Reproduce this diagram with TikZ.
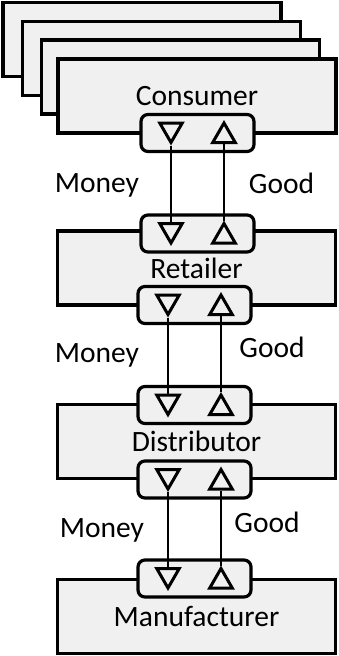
\documentclass[tikz,border=0pt]{standalone}
\usepackage{fontspec}
\setmainfont{Carlito}
\usetikzlibrary{shapes.geometric}
\definecolor{boxgray}{HTML}{F0F0F0}
\begin{document}
\begin{tikzpicture}[x=1pt,y=-1pt,
  stage/.style={draw, line width=3.2pt, fill=boxgray, minimum width=278pt, minimum height=74pt, inner sep=0pt, font=\fontsize{29.5}{31}\selectfont},
  port/.style={draw, line width=3.2pt, fill=boxgray, rounded corners=7pt, minimum width=113pt, minimum height=37pt, inner sep=0pt},
  tri/.style={draw, line width=3pt, fill=boxgray, regular polygon, regular polygon sides=3, minimum size=26pt, inner sep=0pt},
  tridown/.style={tri, shape border rotate=180},
  flow/.style={line width=2.4pt},
  lbl/.style={font=\fontsize{29.5}{31}\selectfont, anchor=base}]
\useasboundingbox[fill=white] (0,0) rectangle (338,656);
% stacked consumers
\node[stage] (c1) at (142,39.5) {};
\node[stage] (c2) at (161.5,58.5) {};
\node[stage] (c3) at (180.5,77) {};
\node[stage] (con) at (197,96) {Consumer};
\node[stage] (ret) at (196.5,268) {Retailer};
\node[stage] (dis) at (196.5,441.5) {Distributor};
\node[stage] (man) at (196.5,616.5) {Manufacturer};
% ports
\node[port] (p1u) at (197.5,133) {};
\node[port] (p1l) at (197.5,233.5) {};
\node[port] (p2u) at (194.5,305) {};
\node[port] (p2l) at (194.5,405) {};
\node[port] (p3u) at (194.5,479.5) {};
\node[port] (p3l) at (194.5,578.5) {};
% triangles
\node[tridown] (d1u) at (171,129.5) {};
\node[tri]     (u1u) at (224,136) {};
\node[tridown] (d1l) at (171,230) {};
\node[tri]     (u1l) at (224,236.5) {};
\node[tridown] (d2u) at (168,301.5) {};
\node[tri]     (u2u) at (221,308) {};
\node[tridown] (d2l) at (168,401.5) {};
\node[tri]     (u2l) at (221,408) {};
\node[tridown] (d3u) at (168,476) {};
\node[tri]     (u3u) at (221,482.5) {};
\node[tridown] (d3l) at (168,575) {};
\node[tri]     (u3l) at (221,581.5) {};
% flows
\draw[flow] (d1u.corner 1) -- (d1l.side 2);
\draw[flow] (u1l.corner 1) -- (u1u.side 2);
\draw[flow] (d2u.corner 1) -- (d2l.side 2);
\draw[flow] (u2l.corner 1) -- (u2u.side 2);
\draw[flow] (d3u.corner 1) -- (d3l.side 2);
\draw[flow] (u3l.corner 1) -- (u3u.side 2);
% labels
\node[lbl] (m1) at (97,192) {Money};
\node[lbl] (g1) at (281.5,193) {Good};
\node[lbl] (m2) at (97,362) {Money};
\node[lbl] (g2) at (272,357) {Good};
\node[lbl] (m3) at (102,537) {Money};
\node[lbl] (g3) at (267,532) {Good};
\end{tikzpicture}
\end{document}
